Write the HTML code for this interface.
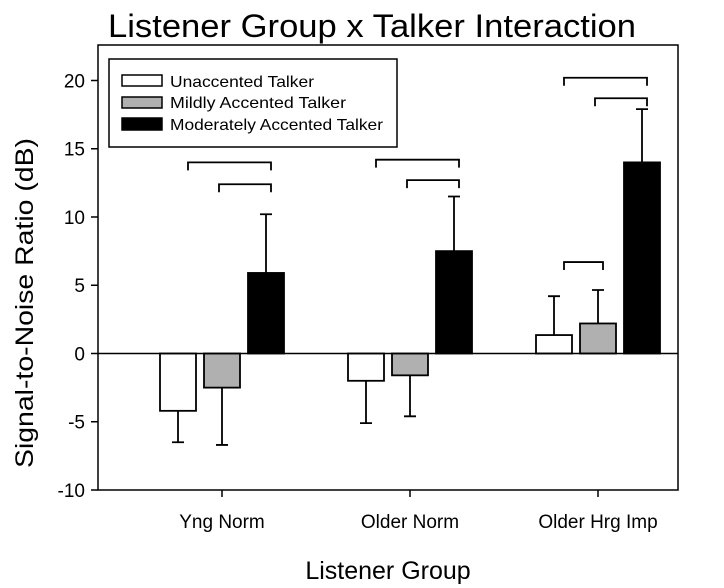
<!DOCTYPE html>
<html><head><meta charset="utf-8"><style>
html,body{margin:0;padding:0;background:#fff}
svg{display:block;font-family:"Liberation Sans",Arial,sans-serif}
</style></head><body>
<svg id="chart" width="724" height="588" viewBox="0 0 724 588">
<text x="372" y="37" font-size="32" text-anchor="middle" textLength="528" lengthAdjust="spacingAndGlyphs">Listener Group x Talker Interaction</text>
<text transform="translate(33,303) rotate(-90)" font-size="25" text-anchor="middle" textLength="330" lengthAdjust="spacingAndGlyphs">Signal-to-Noise Ratio (dB)</text>
<text x="388" y="579" font-size="25" text-anchor="middle">Listener Group</text>
<g id="plot"></g>
<g>
<rect x="109" y="59" width="288" height="88" fill="#fff" stroke="#000" stroke-width="1.5"/>
<g><rect x="122" y="75" width="40" height="11" fill="#fff" stroke="#000" stroke-width="1.5"/><text x="170" y="87" font-size="16" textLength="144" lengthAdjust="spacingAndGlyphs">Unaccented Talker</text></g>
<g><rect x="122" y="97" width="40" height="11" fill="#b0b0b0" stroke="#000" stroke-width="1.5"/><text x="170" y="108" font-size="16" textLength="176" lengthAdjust="spacingAndGlyphs">Mildly  Accented Talker</text></g>
<g><rect x="122" y="118" width="40" height="12" fill="#000" stroke="#000" stroke-width="1.5"/><text x="170" y="130" font-size="16" textLength="213" lengthAdjust="spacingAndGlyphs">Moderately Accented Talker</text></g>
</g>
</svg>
<script>
const categories = ["Yng Norm", "Older Norm", "Older Hrg Imp"];
const unaccented = [-4.2, -2.0, 1.35];
const unaccentedErr = [-6.5, -5.1, 4.2];
const mildly = [-2.5, -1.6, 2.2];
const mildlyErr = [-6.7, -4.6, 4.65];
const moderately = [5.9, 7.5, 14.0];
const moderatelyErr = [10.2, 11.5, 17.9];
const yTicks = [-10, -5, 0, 5, 10, 15, 20];
// brackets: [category index, from series, to series, level dB]
const brackets = [[0,0,2,14.0],[0,1,2,12.4],[1,0,2,14.2],[1,1,2,12.7],[2,0,2,20.2],[2,1,2,18.7],[2,0,1,6.7]];

const L=98, R=678, T=45, B=490, yMin=-10, yMax=22.6;
const y = v => B - (v - yMin) / (yMax - yMin) * (B - T);
const cx = i => 222 + i * 188;
const barX = (i, s) => cx(i) + (s - 1) * 44;
const BW = 36;
const NS = "http://www.w3.org/2000/svg";
const g = document.getElementById('plot');
function mk(tag, attrs, parent){const e=document.createElementNS(NS,tag);for(const k in attrs)e.setAttribute(k,attrs[k]);(parent||g).appendChild(e);return e;}

const frame = mk('rect',{x:L,y:T,width:R-L,height:B-T,fill:'none',stroke:'#000','stroke-width':1.5});



yTicks.forEach(t=>{
  const ln = mk('line',{x1:L-7,x2:L,y1:y(t),y2:y(t),stroke:'#000','stroke-width':1.5});
  
  
  const tx = mk('text',{x:L-13,y:y(t)+7,'font-size':19,'text-anchor':'end'});
  tx.textContent = t;
  
  
});
categories.forEach((c,i)=>{
  const ln = mk('line',{x1:cx(i),x2:cx(i),y1:B,y2:B+7,stroke:'#000','stroke-width':1.5});
  
  
  const tx = mk('text',{x:cx(i),y:528,'font-size':19,'text-anchor':'middle'});
  tx.textContent = c;
  
  
});

const series = [[unaccented,unaccentedErr,'#fff','unaccented'],[mildly,mildlyErr,'#b0b0b0','mildly'],[moderately,moderatelyErr,'#000','moderately']];
series.forEach(([vals,errs,fill,name],s)=>{
  vals.forEach((v,i)=>{
    const x = barX(i,s), y0=y(0), y1=y(v), e=y(errs[i]);
    const ebar = mk('path',{d:`M${x} ${y1} V${e} M${x-6} ${e} H${x+6}`,stroke:'#000','stroke-width':1.8,fill:'none'});
    
    
    const r = mk('rect',{x:x-BW/2,y:Math.min(y0,y1),width:BW,height:Math.abs(y1-y0),fill:fill,stroke:'#000','stroke-width':1.8});
    
    
  });
});
const zl = mk('line',{x1:L,x2:R,y1:y(0),y2:y(0),stroke:'#000','stroke-width':1.5});



brackets.forEach(([i,a,b,lv])=>{
  const x1=barX(i,a)+(a===0?10:-3), x2=barX(i,b)+5, yy=y(lv);
  const p = mk('path',{d:`M${x1} ${yy+8} V${yy} H${x2} V${yy+8}`,stroke:'#000','stroke-width':1.8,fill:'none'});
  
  
});
</script>
</body></html>
